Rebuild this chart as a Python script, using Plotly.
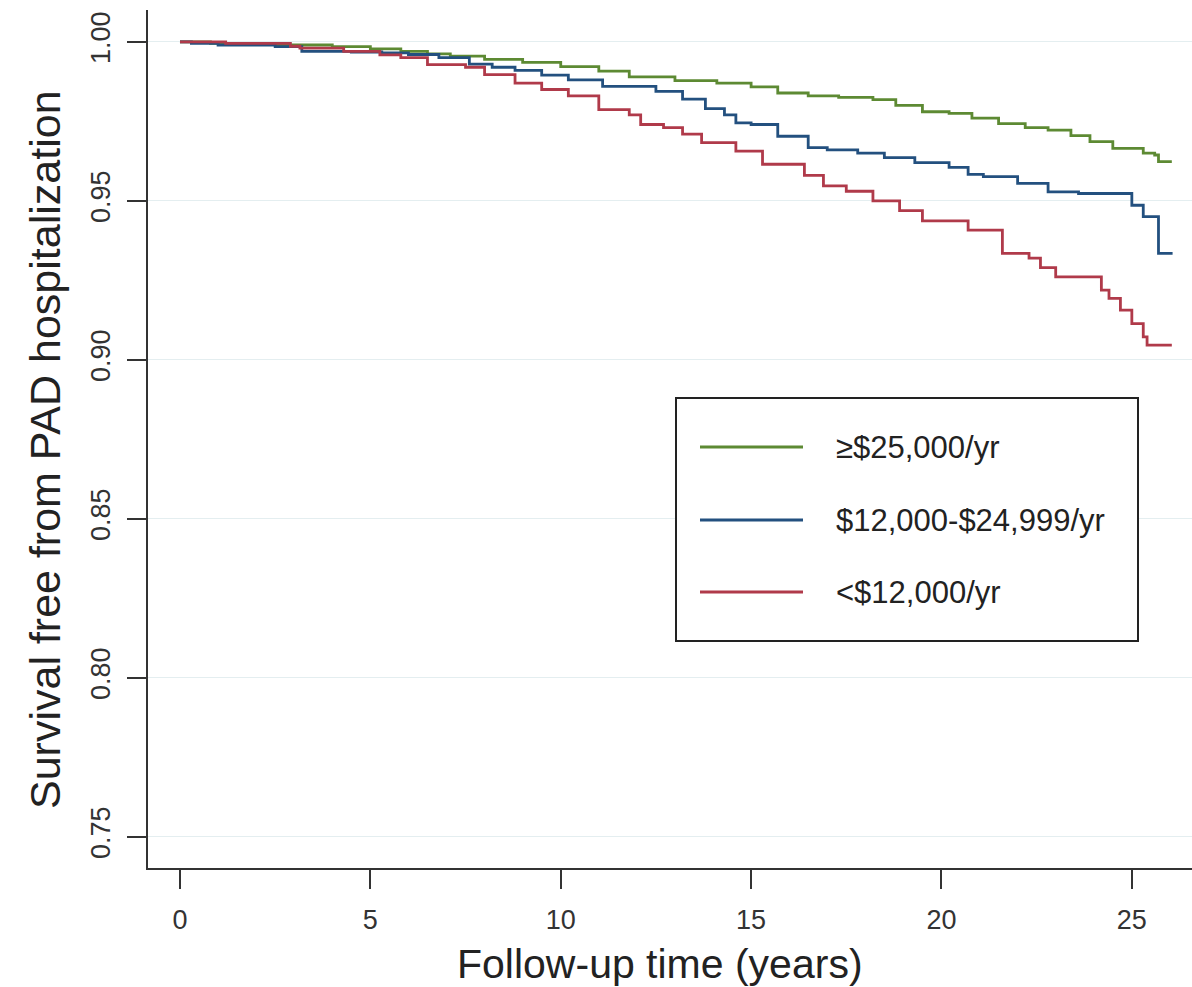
import plotly.graph_objects as go

# ---------------- data ----------------
series_names = ["≥$25,000/yr", "$12,000-$24,999/yr", "<$12,000/yr"]

t_high = [0, 0.8, 2.5, 4.0, 5.0, 5.8, 6.5, 7.1, 8.0, 9.0, 10.0, 11.0, 11.8, 13.0,
          14.1, 15.0, 15.7, 16.5, 17.3, 18.2, 18.8, 19.5, 20.2, 20.8, 21.5, 22.2,
          22.8, 23.4, 23.9, 24.5, 25.3, 25.6, 25.7, 26.05]
s_high = [1.000, 0.9995, 0.999, 0.9985, 0.9978, 0.997, 0.9962, 0.9955, 0.9945, 0.9935,
          0.9922, 0.9908, 0.989, 0.9878, 0.987, 0.9858, 0.9839, 0.983, 0.9825, 0.9818,
          0.980, 0.978, 0.9775, 0.976, 0.9743, 0.973, 0.9722, 0.9705, 0.9686, 0.9665,
          0.965, 0.9644, 0.9623, 0.9623]

t_mid = [0, 0.3, 1.0, 2.5, 3.2, 4.5, 5.3, 6.0, 6.8, 7.6, 8.2, 8.8, 9.5, 10.2, 11.1,
         12.5, 13.2, 13.8, 14.3, 14.6, 15.0, 15.7, 16.5, 17.0, 17.8, 18.5, 19.3, 20.2,
         20.7, 21.1, 22.0, 22.8, 23.6, 24.9, 25.0, 25.3, 25.7, 26.07]
s_mid = [1.000, 0.9995, 0.999, 0.9985, 0.997, 0.9968, 0.9965, 0.996, 0.995, 0.993,
         0.992, 0.991, 0.9895, 0.988, 0.986, 0.9844, 0.982, 0.979, 0.977, 0.9745,
         0.974, 0.9703, 0.9667, 0.966, 0.965, 0.9636, 0.962, 0.9605, 0.9583, 0.9576,
         0.9555, 0.9528, 0.9523, 0.9523, 0.9486, 0.945, 0.9335, 0.9335]

t_low = [0, 1.2, 2.9, 3.15, 4.3, 5.25, 5.8, 6.5, 7.5, 8.0, 8.8, 9.5, 10.2, 11.0, 11.8,
         12.1, 12.7, 13.2, 13.7, 14.6, 15.3, 16.4, 16.9, 17.5, 18.2, 18.9, 19.5, 20.7,
         21.6, 22.3, 22.6, 23.0, 24.2, 24.4, 24.7, 25.0, 25.3, 25.4, 26.05]
s_low = [1.000, 0.9995, 0.9986, 0.998, 0.997, 0.9959, 0.995, 0.9928, 0.992, 0.9897,
         0.987, 0.985, 0.983, 0.9787, 0.977, 0.974, 0.973, 0.971, 0.9683, 0.9656,
         0.9615, 0.958, 0.9547, 0.953, 0.950, 0.9469, 0.9437, 0.9408, 0.9335, 0.932,
         0.929, 0.9261, 0.9219, 0.9193, 0.9156, 0.9114, 0.9072, 0.9046, 0.9046]

x_ticks = [0, 5, 10, 15, 20, 25]
y_ticks = [0.75, 0.80, 0.85, 0.90, 0.95, 1.00]
y_tick_labels = ["0.75", "0.80", "0.85", "0.90", "0.95", "1.00"]

x_title = "Follow-up time (years)"
y_title = "Survival free from PAD hospitalization"

# ---------------- styles ----------------
colors = ["#5d8a33", "#23507f", "#b03a4a"]
FONT = "Liberation Sans, Arial, Helvetica, sans-serif"
AXIS_COLOR = "#333333"

fig = go.Figure()
for name, t, s, c in zip(series_names, [t_high, t_mid, t_low], [s_high, s_mid, s_low], colors):
    fig.add_trace(go.Scatter(
        x=t, y=s, mode="lines", name=name, showlegend=False,
        line=dict(color=c, width=2.8, shape="hv"),
    ))

# ---------------- layout helpers (pixel -> paper) ----------------
W, H = 1192, 987
ML, MR, MT, MB = 148, 0, 10, 119
PW, PH = W - ML - MR, H - MT - MB


def px(x):
    return (x - ML) / PW


def py(y):
    return (H - MB - y) / PH


# legend key box
shapes = [dict(type="rect", xref="paper", yref="paper",
               x0=px(676), x1=px(1138), y0=py(641), y1=py(398),
               line=dict(color="#222222", width=2), fillcolor="white", layer="above")]
annotations = []
row_y = [447, 520, 592]
for name, c, ry in zip(series_names, colors, row_y):
    shapes.append(dict(type="line", xref="paper", yref="paper",
                       x0=px(700), x1=px(803), y0=py(ry), y1=py(ry),
                       line=dict(color=c, width=2.8), layer="above"))
    annotations.append(dict(xref="paper", yref="paper", x=px(834), y=py(ry),
                            xanchor="left", yanchor="middle", showarrow=False,
                            text=name, font=dict(size=31, family=FONT, color="#222222")))

# axis titles
annotations.append(dict(xref="paper", yref="paper", x=px(660), y=py(964),
                        xanchor="center", yanchor="middle", showarrow=False,
                        text=x_title, font=dict(size=41, family=FONT, color="#222222")))
annotations.append(dict(xref="paper", yref="paper", x=px(45), y=py(450),
                        xanchor="center", yanchor="middle", showarrow=False,
                        textangle=-90,
                        text=y_title, font=dict(size=43, family=FONT, color="#222222")))

fig.update_layout(
    width=W, height=H,
    margin=dict(l=ML, r=MR, t=MT, b=MB),
    paper_bgcolor="white", plot_bgcolor="white",
    font=dict(family=FONT, color="#222222"),
    showlegend=False,
    shapes=shapes, annotations=annotations,
    xaxis=dict(
        range=[-0.84, 26.58], tickvals=x_ticks, ticks="outside", ticklen=19,
        tickwidth=2, tickcolor=AXIS_COLOR, showline=True, linecolor=AXIS_COLOR,
        linewidth=2, showgrid=False, zeroline=False,
        tickfont=dict(size=27, color="#333333"), ticklabelstandoff=8,
    ),
    yaxis=dict(
        range=[0.7402, 1.0100], tickvals=y_ticks, ticktext=y_tick_labels,
        ticks="outside", ticklen=19, tickwidth=2, tickcolor=AXIS_COLOR,
        showline=True, linecolor=AXIS_COLOR, linewidth=2,
        showgrid=True, gridcolor="#e4eef0", gridwidth=1, zeroline=False,
        tickangle=-90, tickfont=dict(size=27, color="#333333"), ticklabelstandoff=6,
    ),
)

fig.write_html("out.html", config={"displayModeBar": False},
               post_script="document.body.style.margin='0';")
